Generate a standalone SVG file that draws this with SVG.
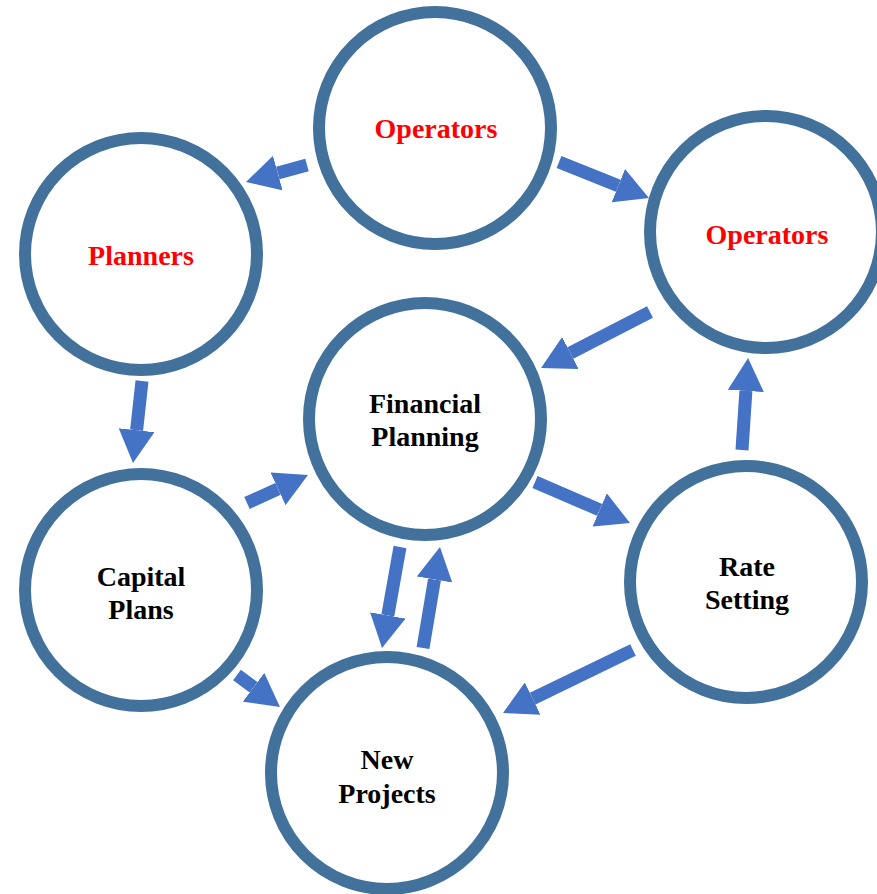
<svg xmlns="http://www.w3.org/2000/svg" width="877" height="894" viewBox="0 0 877 894">
<style>
.node circle{fill:#fff;stroke:#42729C;stroke-width:12}
.node text{font-family:"Liberation Serif","Times New Roman",serif;font-weight:bold;font-size:28px;text-anchor:middle;fill:#000}
.node text.red{fill:#FF0000}
.conn line{stroke:#4472C4;stroke-width:13;stroke-linecap:butt;marker-end:url(#head)}
</style>
<defs>
<marker id="head" markerUnits="userSpaceOnUse" markerWidth="33" markerHeight="36" viewBox="0 0 33 36" refX="0" refY="18" orient="auto">
<path d="M0,0 L33,18 L0,36 Z" fill="#4472C4"/>
</marker>
</defs>
<rect width="877" height="894" fill="#fff"/>
<g id="operators-top" class="node"><circle cx="435" cy="128" r="116"/><text class="red" x="436" y="138">Operators</text></g>
<g id="planners" class="node"><circle cx="141" cy="254" r="116"/><text class="red" x="141" y="265">Planners</text></g>
<g id="operators-right" class="node"><circle cx="766" cy="232" r="116"/><text class="red" x="767" y="244">Operators</text></g>
<g id="financial-planning" class="node"><circle cx="425" cy="419" r="116"/><text x="425" y="413">Financial</text><text x="425" y="446">Planning</text></g>
<g id="capital-plans" class="node"><circle cx="141" cy="590" r="116"/><text x="141" y="586">Capital</text><text x="141" y="619">Plans</text></g>
<g id="rate-setting" class="node"><circle cx="746" cy="582" r="116"/><text x="747" y="576">Rate</text><text x="747" y="609">Setting</text></g>
<g id="new-projects" class="node"><circle cx="387" cy="773" r="116"/><text x="387" y="769">New</text><text x="387" y="803">Projects</text></g>
<g id="connectors" class="conn">
<line x1="307" y1="165" x2="277.8" y2="173.1"/>
<line x1="559" y1="162" x2="618.3" y2="185.7"/>
<line x1="650" y1="312" x2="570.4" y2="353"/>
<line x1="742" y1="450" x2="745.9" y2="390.9"/>
<line x1="142" y1="381" x2="136.6" y2="430.2"/>
<line x1="247" y1="503" x2="278" y2="488.8"/>
<line x1="400" y1="547" x2="387.8" y2="615.5"/>
<line x1="423" y1="648" x2="434.5" y2="579.5"/>
<line x1="535" y1="482" x2="599.7" y2="509.9"/>
<line x1="633" y1="650" x2="532.7" y2="698.6"/>
<line x1="237" y1="675" x2="253.5" y2="687.3"/>
</g>
</svg>
